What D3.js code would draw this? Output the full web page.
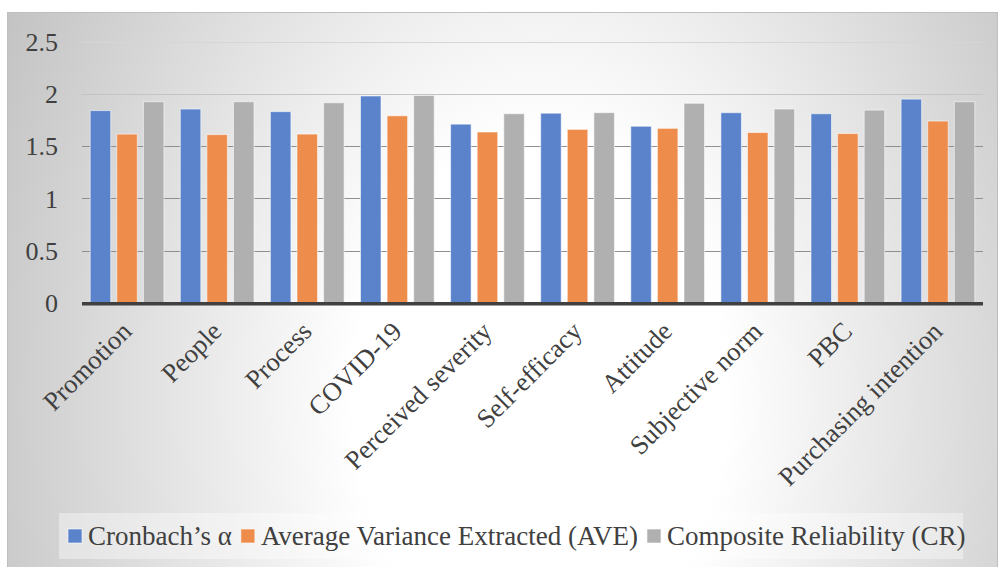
<!DOCTYPE html>
<html>
<head>
<meta charset="utf-8">
<script src="https://cdn.jsdelivr.net/npm/d3@7"></script>
<style>
  html, body { margin: 0; padding: 0; background: #ffffff; }
  svg { display: block; }
  text { font-family: "Liberation Serif", "Times New Roman", serif; fill: #404040; }
</style>
</head>
<body>
<svg id="chart" width="1000" height="567"></svg>
<script>
// ---- data ----
const categories = ["Promotion", "People", "Process", "COVID-19", "Perceived severity",
  "Self-efficacy", "Attitude", "Subjective norm", "PBC", "Purchasing intention"];
const seriesNames = ["Cronbach\u2019s \u03b1", "Average Variance Extracted (AVE)", "Composite Reliability (CR)"];
const cronbach = [1.84, 1.855, 1.83, 1.98, 1.71, 1.815, 1.69, 1.82, 1.81, 1.95];
const ave      = [1.615, 1.61, 1.615, 1.79, 1.635, 1.66, 1.67, 1.63, 1.62, 1.74];
const cr       = [1.925, 1.925, 1.915, 1.985, 1.81, 1.82, 1.91, 1.855, 1.845, 1.925];
const yTicks = [0, 0.5, 1, 1.5, 2, 2.5];
const seriesColors = ["#5b83cc", "#ee8c4c", "#b0b0b0"];

const series = [cronbach, ave, cr];

// ---- layout ----
const svg = d3.select("#chart");
const box = { x: 7, y: 12, w: 990, h: 560 };
const plot = { left: 82, right: 983, top: 41.7, bottom: 302.7 };

// background gradient
const defs = svg.append("defs");
const rg = defs.append("radialGradient")
  .attr("id", "bg")
  .attr("gradientUnits", "userSpaceOnUse")
  .attr("cx", 540).attr("cy", 400).attr("r", 620)
  .attr("fx", 540).attr("fy", 400)
  .attr("gradientTransform", "translate(540,400) scale(1,1.41) translate(-540,-400)");
rg.append("stop").attr("offset", 0).attr("stop-color", "#ffffff");
rg.append("stop").attr("offset", 0.3).attr("stop-color", "#ffffff");
rg.append("stop").attr("offset", 1).attr("stop-color", "#c0c0c0");

svg.append("rect")
  .attr("x", box.x + 0.5).attr("y", box.y + 0.5)
  .attr("width", box.w).attr("height", box.h)
  .attr("fill", "url(#bg)")
  .attr("stroke", "#bfbfbf").attr("stroke-width", 1);

// scales
const x0 = d3.scaleBand().domain(categories).range([plot.left, plot.right]).paddingInner(0).paddingOuter(0);
const y = d3.scaleLinear().domain([0, 2.5]).range([plot.bottom, plot.top]);

const barW = 20.5, barStep = 26.6;

// gridlines
const gridColor = v => v >= 2.5 ? "#d6d6d6" : (v >= 2 ? "#c4c4c4" : "#8f8f8f");
svg.append("g").selectAll("line")
  .data(yTicks.filter(t => t > 0))
  .join("line")
  .attr("x1", plot.left).attr("x2", plot.right)
  .attr("y1", d => Math.round(y(d)) + 0.5).attr("y2", d => Math.round(y(d)) + 0.5)
  .attr("stroke", d => gridColor(d)).attr("stroke-width", 1);

// bars
const groups = svg.append("g").selectAll("g")
  .data(categories)
  .join("g")
  .attr("transform", d => `translate(${x0(d) + x0.bandwidth() / 2},0)`);

groups.selectAll("rect")
  .data((d, i) => series.map((s, k) => ({ k, v: s[i] })))
  .join("rect")
  .attr("x", d => (d.k - 1) * barStep - barW / 2)
  .attr("width", barW)
  .attr("y", d => y(d.v))
  .attr("height", d => y(0) - y(d.v))
  .attr("fill", d => seriesColors[d.k])
  .attr("stroke", "rgba(255,255,255,0.55)")
  .attr("stroke-width", 1);

// x axis line
svg.append("line")
  .attr("x1", plot.left).attr("x2", plot.right)
  .attr("y1", y(0) + 1).attr("y2", y(0) + 1)
  .attr("stroke", "#404040").attr("stroke-width", 3.5);

// y axis labels
const yAxis = d3.axisLeft(y).tickValues(yTicks).tickSize(0).tickPadding(0)
  .tickFormat(d3.format("~g"));
const yg = svg.append("g").attr("transform", `translate(58,0)`).call(yAxis);
yg.attr("font-family", null).attr("font-size", null);
yg.select(".domain").remove();
yg.selectAll("text")
  .style("font-family", "'Liberation Serif', serif")
  .style("font-size", "26px")
  .style("fill", "#404040")
  .attr("dy", "0.34em");

// x axis labels
const xAxis = d3.axisBottom(x0).tickSize(0).tickPadding(0);
const xg = svg.append("g").call(xAxis);
xg.attr("font-family", null).attr("font-size", null);
xg.select(".domain").remove();
xg.selectAll(".tick").attr("transform", d => `translate(${x0(d) + x0.bandwidth() / 2 + 6},333)`);
xg.selectAll("text")
  .style("font-family", "'Liberation Serif', serif")
  .style("font-size", "26.5px")
  .style("fill", "#404040")
  .attr("y", 0).attr("dy", 0)
  .attr("text-anchor", "end")
  .attr("transform", "rotate(-45)");

// legend
const lg = svg.append("g");
lg.append("rect")
  .attr("x", 59).attr("y", 513).attr("width", 904).attr("height", 46)
  .attr("fill", "rgba(255,255,255,0.38)");
let lx = 68;
seriesNames.forEach((name, k) => {
  lg.append("rect")
    .attr("x", lx).attr("y", 529).attr("width", 14).attr("height", 14)
    .attr("fill", seriesColors[k])
    .attr("stroke", "rgba(255,255,255,0.6)").attr("stroke-width", 1);
  const t = lg.append("text")
    .attr("x", lx + 20).attr("y", 545)
    .style("font-family", "'Liberation Serif', serif")
    .style("font-size", "27px")
    .text(name);
  lx = lx + 20 + t.node().getComputedTextLength() + 9;
});
</script>
</body>
</html>
